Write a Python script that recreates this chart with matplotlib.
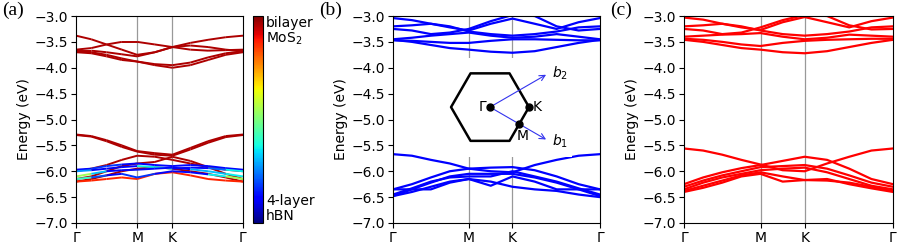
import numpy as np
import matplotlib.pyplot as plt
from matplotlib.collections import LineCollection
from matplotlib.cm import ScalarMappable
from matplotlib.colors import Normalize

# k-path nodes: Gamma - M - K - Gamma (in units of |Gamma M|)
k_nodes = [0, 0.25, 0.5, 0.75, 1.0, 1.29, 1.577, 1.87, 2.16, 2.45, 2.732]
k_ticks = [0, 1.0, 1.577, 2.732]
k_labels = ['Γ', 'M', 'K', 'Γ']

# panel (a): heterostructure, colored by MoS2 weight (1 = MoS2, 0 = hBN)
bands_a = [
    [-3.38, -3.45, -3.55, -3.65, -3.75, -3.70, -3.60, -3.52, -3.46, -3.41, -3.38],
    [-3.65, -3.62, -3.55, -3.50, -3.50, -3.55, -3.60, -3.65, -3.67, -3.66, -3.65],
    [-3.67, -3.67, -3.70, -3.74, -3.78, -3.70, -3.60, -3.57, -3.60, -3.65, -3.68],
    [-3.68, -3.70, -3.75, -3.82, -3.88, -3.93, -3.95, -3.90, -3.80, -3.72, -3.68],
    [-3.70, -3.72, -3.78, -3.85, -3.88, -3.95, -4.00, -3.95, -3.85, -3.75, -3.70],
    [-5.29, -5.32, -5.40, -5.50, -5.61, -5.65, -5.68, -5.55, -5.42, -5.32, -5.29],
    [-5.30, -5.33, -5.42, -5.53, -5.62, -5.68, -5.70, -5.58, -5.45, -5.34, -5.30],
    [-6.00, -5.95, -5.88, -5.78, -5.70, -5.72, -5.78, -5.85, -5.92, -5.97, -6.00],
    [-6.15, -6.10, -6.00, -5.90, -5.85, -5.82, -5.72, -5.80, -5.92, -6.05, -6.15],
    [-6.20, -6.15, -6.08, -6.00, -5.95, -5.92, -5.95, -6.00, -6.05, -6.12, -6.20],
    [-6.20, -6.18, -6.15, -6.12, -6.15, -6.05, -6.02, -6.08, -6.15, -6.18, -6.20],
    [-5.97, -5.95, -5.90, -5.87, -5.85, -5.88, -5.90, -5.88, -5.90, -5.94, -5.97],
    [-6.00, -5.98, -5.95, -5.92, -5.90, -5.92, -5.95, -5.93, -5.94, -5.97, -6.00],
    [-6.10, -6.05, -6.00, -5.98, -5.97, -5.95, -5.93, -5.96, -6.00, -6.05, -6.10],
    [-6.15, -6.12, -6.08, -6.05, -6.12, -6.05, -6.00, -6.02, -6.06, -6.10, -6.15],
]
weights_a = [
    [1.0] * 11, [1.0] * 11, [1.0] * 11, [1.0] * 11, [1.0] * 11,
    [1.0] * 11, [1.0] * 11, [1.0] * 11, [1.0] * 11, [1.0] * 11, [0.9] * 11,
    [0.1, 0.1, 0.2, 0.1, 0.05, 0.1, 0.1, 0.1, 0.1, 0.1, 0.1],
    [0.4, 0.1, 0.05, 0.1, 0.1, 0.6, 0.1, 0.1, 0.1, 0.3, 0.4],
    [0.6, 0.5, 0.1, 0.05, 0.1, 0.1, 0.1, 0.05, 0.5, 0.1, 0.6],
    [0.5, 0.3, 0.05, 0.1, 0.2, 0.1, 0.1, 0.1, 0.1, 0.6, 0.5],
]

# panel (b): hBN
bands_b = [
    [-3.04, -3.08, -3.15, -3.22, -3.28, -3.15, -3.05, -3.15, -3.25, -3.12, -3.04],
    [-3.20, -3.18, -3.15, -3.20, -3.30, -3.35, -3.38, -3.35, -3.30, -3.22, -3.20],
    [-3.25, -3.28, -3.35, -3.32, -3.25, -3.10, -2.98, -3.00, -3.20, -3.28, -3.25],
    [-3.45, -3.42, -3.38, -3.35, -3.32, -3.38, -3.42, -3.40, -3.35, -3.40, -3.45],
    [-3.47, -3.48, -3.50, -3.52, -3.52, -3.48, -3.45, -3.45, -3.46, -3.47, -3.47],
    [-3.46, -3.50, -3.56, -3.62, -3.65, -3.69, -3.71, -3.68, -3.60, -3.52, -3.46],
    [-5.67, -5.70, -5.78, -5.85, -5.95, -6.00, -6.02, -5.88, -5.78, -5.70, -5.67],
    [-6.35, -6.25, -6.12, -6.00, -5.95, -5.93, -5.92, -5.98, -6.10, -6.25, -6.35],
    [-6.48, -6.35, -6.22, -6.10, -6.05, -6.05, -6.05, -6.12, -6.22, -6.35, -6.48],
    [-6.45, -6.33, -6.20, -6.12, -6.10, -6.10, -6.00, -6.10, -6.20, -6.33, -6.45],
    [-6.35, -6.35, -6.35, -6.22, -6.15, -6.28, -6.10, -6.20, -6.35, -6.35, -6.35],
    [-6.48, -6.40, -6.30, -6.20, -6.15, -6.20, -6.30, -6.35, -6.38, -6.45, -6.50],
]

# panel (c): MoS2
bands_c = [
    [-3.03, -3.07, -3.15, -3.22, -3.27, -3.12, -3.02, -3.12, -3.22, -3.10, -3.03],
    [-3.20, -3.18, -3.15, -3.20, -3.28, -3.35, -3.38, -3.35, -3.30, -3.22, -3.20],
    [-3.25, -3.28, -3.35, -3.32, -3.22, -3.08, -2.98, -3.00, -3.18, -3.26, -3.25],
    [-3.40, -3.38, -3.36, -3.35, -3.33, -3.40, -3.45, -3.42, -3.36, -3.38, -3.40],
    [-3.44, -3.46, -3.50, -3.55, -3.58, -3.52, -3.48, -3.46, -3.45, -3.44, -3.44],
    [-3.46, -3.50, -3.56, -3.62, -3.65, -3.70, -3.72, -3.68, -3.60, -3.52, -3.46],
    [-5.56, -5.60, -5.68, -5.78, -5.87, -5.98, -6.00, -5.85, -5.72, -5.60, -5.56],
    [-6.25, -6.12, -6.02, -5.94, -5.88, -5.80, -5.72, -5.78, -5.95, -6.15, -6.25],
    [-6.30, -6.18, -6.08, -6.00, -5.92, -5.90, -5.88, -5.95, -6.08, -6.22, -6.30],
    [-6.35, -6.22, -6.12, -6.05, -5.98, -5.95, -5.93, -6.02, -6.15, -6.28, -6.35],
    [-6.38, -6.28, -6.18, -6.08, -6.02, -6.10, -6.17, -6.18, -6.22, -6.30, -6.38],
    [-6.40, -6.32, -6.22, -6.10, -6.05, -6.20, -6.17, -6.15, -6.25, -6.33, -6.40],
]

W, H = 900, 246
FS = 10


def px_axes(fig, x0, x1, y0, y1):
    # pixel box (top-left origin) -> figure fraction
    return fig.add_axes([x0 / W, (H - y1) / H, (x1 - x0) / W, (y1 - y0) / H])


def style_band_axes(ax, label):
    ax.set_xlim(k_ticks[0], k_ticks[-1])
    ax.set_ylim(-7.0, -3.0)
    yt = np.arange(-7.0, -2.99, 0.5)
    ax.set_yticks(yt)
    ax.set_yticklabels([f'{v:.1f}'.replace('-', '\u2212') for v in yt])
    ax.set_xticks(k_ticks)
    ax.set_xticklabels(k_labels)
    for k in k_ticks[1:3]:
        ax.axvline(k, color='#999999', lw=0.9, zorder=0)
    ax.set_ylabel('Energy (eV)', labelpad=3)
    ax.tick_params(labelsize=FS, length=3.5, pad=2)
    bb = ax.get_position()
    ax.figure.text(bb.x0 - 0.082, 0.995, label, ha='left', va='top',
                   family='Liberation Serif', fontsize=14)


plt.rcParams['font.family'] = ['DejaVu Sans']
plt.rcParams['font.size'] = FS
fig = plt.figure(figsize=(9, 2.46), dpi=100)

# (a)
ax_a = px_axes(fig, 76, 243, 16, 223)
cmap = plt.get_cmap('jet')
for band, w in zip(bands_a, weights_a):
    pts = np.column_stack([k_nodes, band])
    segs = np.stack([pts[:-1], pts[1:]], axis=1)
    wmid = 0.5 * (np.array(w[:-1]) + np.array(w[1:]))
    lc = LineCollection(segs, colors=cmap(0.92 * wmid + 0.04), linewidths=1.4)
    ax_a.add_collection(lc)
style_band_axes(ax_a, '(a)')

cax = px_axes(fig, 253, 263, 16, 223)
cb = fig.colorbar(ScalarMappable(norm=Normalize(0, 1), cmap=cmap), cax=cax)
cb.set_ticks([])
cb.outline.set_linewidth(0.8)
fig.text(266 / W, 1 - 16 / H, 'bilayer\nMoS$_2$', ha='left', va='top', fontsize=FS, linespacing=1.05)
fig.text(266 / W, 1 - 223 / H, '4-layer\nhBN', ha='left', va='bottom', fontsize=FS, linespacing=1.05)

# (b)
ax_b = px_axes(fig, 393, 600, 16, 223)
for band in bands_b:
    ax_b.plot(k_nodes, band, color='blue', lw=1.6)
style_band_axes(ax_b, '(b)')

# inset: Brillouin zone (white box hides the band-plot grid lines behind it)
ins = px_axes(fig, 440, 572, 58, 157)
ins.set_xlim(-1.28, 2.1)
ins.set_ylim(-1.28, 1.26)
ins.set_aspect('equal')
ins.set_xticks([])
ins.set_yticks([])
for s in ins.spines.values():
    s.set_visible(False)
ins.set_facecolor('white')
ang = np.deg2rad(np.arange(0, 361, 60))
ins.plot(np.cos(ang), np.sin(ang), color='black', lw=1.8)
m_pt = (np.sqrt(3) / 2 * np.cos(np.deg2rad(-30)), np.sqrt(3) / 2 * np.sin(np.deg2rad(-30)))
for a_deg, name in [(-30, '$b_1$'), (30, '$b_2$')]:
    tip = np.sqrt(3) * np.array([np.cos(np.deg2rad(a_deg)), np.sin(np.deg2rad(a_deg))])
    ins.annotate('', xy=tip, xytext=(0, 0),
                 arrowprops=dict(arrowstyle='->', color='#3333ee', lw=0.8))
    ins.text(tip[0] + 0.08, tip[1], name, ha='left', va='center', fontsize=FS)
ins.plot([0, 1, m_pt[0]], [0, 0, m_pt[1]], 'o', color='black', ms=5, zorder=5)
ins.text(-0.1, 0, 'Γ', ha='right', va='center', fontsize=FS)
ins.text(1.1, 0, 'K', ha='left', va='center', fontsize=FS)
ins.text(m_pt[0] - 0.08, m_pt[1] - 0.12, 'M', ha='left', va='top', fontsize=FS)

# (c)
ax_c = px_axes(fig, 684, 893, 16, 223)
for band in bands_c:
    ax_c.plot(k_nodes, band, color='red', lw=1.6)
style_band_axes(ax_c, '(c)')

fig.savefig('out.png', dpi=100)
